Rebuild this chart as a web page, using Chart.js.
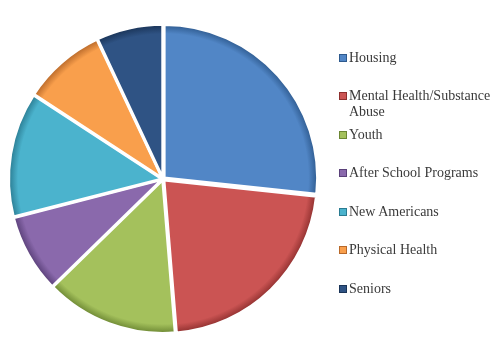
<!DOCTYPE html>
<html>
<head>
<meta charset="utf-8">
<script src="https://cdn.jsdelivr.net/npm/chart.js@4/dist/chart.umd.min.js"></script>
<style>
  html, body { margin: 0; padding: 0; background: #fff; }
  #wrap { position: relative; width: 500px; height: 358px; overflow: hidden; }
  #pieBox { position: absolute; left: 0; top: 0; width: 328px; height: 358px; }
  #legend { position: absolute; left: 0; top: 0; width: 500px; height: 358px; pointer-events: none; }
  .item { position: absolute; left: 339px; width: 160px; font-family: "Liberation Serif", serif; font-size: 14px; color: #3a3a3a; line-height: 16px; }
  .box { position: absolute; left: 0; top: 4px; width: 6px; height: 6px; }
  .txt { position: absolute; left: 10px; top: 0; width: 155px; }
</style>
</head>
<body>
<div id="wrap">
  <div id="pieBox"><canvas id="c"></canvas></div>
  <div id="legend"></div>
</div>
<script>
const categories = ["Housing", "Mental Health/Substance Abuse", "Youth", "After School Programs", "New Americans", "Physical Health", "Seniors"];
const values = [26.7, 22.0, 14.0, 8.3, 13.2, 8.8, 7.0];
const colors = ["#5186C6", "#CB5453", "#A4C15C", "#8A69AC", "#4BB3CD", "#F99F4C", "#2F5384"];
const darkColors = ["#2E5A8E", "#8E2F2E", "#6C8733", "#5A4079", "#2A7B91", "#B8692A", "#1A3458"];
const offsets = [6, 5, 3, 3, 3, 3, 3];

function shade(i, ctx) {
  const chart = ctx.chart;
  const meta = chart.getDatasetMeta(0);
  const el = meta && meta.data ? meta.data[ctx.dataIndex] : null;
  if (!el || !el.outerRadius) return colors[i];
  const c = chart.ctx;
  const g = c.createRadialGradient(el.x, el.y, 0, el.x, el.y, el.outerRadius);
  g.addColorStop(0, colors[i]);
  g.addColorStop(0.94, colors[i]);
  g.addColorStop(1, darkColors[i]);
  return g;
}

const chart = new Chart(document.getElementById('c'), {
  type: 'pie',
  data: {
    labels: categories,
    datasets: [{
      data: values,
      backgroundColor: (ctx) => shade(ctx.dataIndex, ctx),
      borderColor: '#ffffff',
      borderWidth: 3,
      offset: offsets,
      hoverOffset: 0
    }]
  },
  options: {
    responsive: true,
    maintainAspectRatio: false,
    animation: false,
    layout: { padding: { left: 5, right: 7, top: 21, bottom: 21 } },
    plugins: { legend: { display: false }, tooltip: { enabled: false } }
  }
});
chart.update();

const legend = document.getElementById('legend');
categories.forEach((name, i) => {
  const it = document.createElement('div');
  it.className = 'item';
  it.style.top = (49.5 + 38.5 * i) + 'px';
  const b = document.createElement('div');
  b.className = 'box';
  b.style.background = colors[i];
  b.style.border = '1px solid ' + darkColors[i];
  const t = document.createElement('div');
  t.className = 'txt';
  t.textContent = name;
  it.appendChild(b); it.appendChild(t);
  legend.appendChild(it);
});
</script>
</body>
</html>
